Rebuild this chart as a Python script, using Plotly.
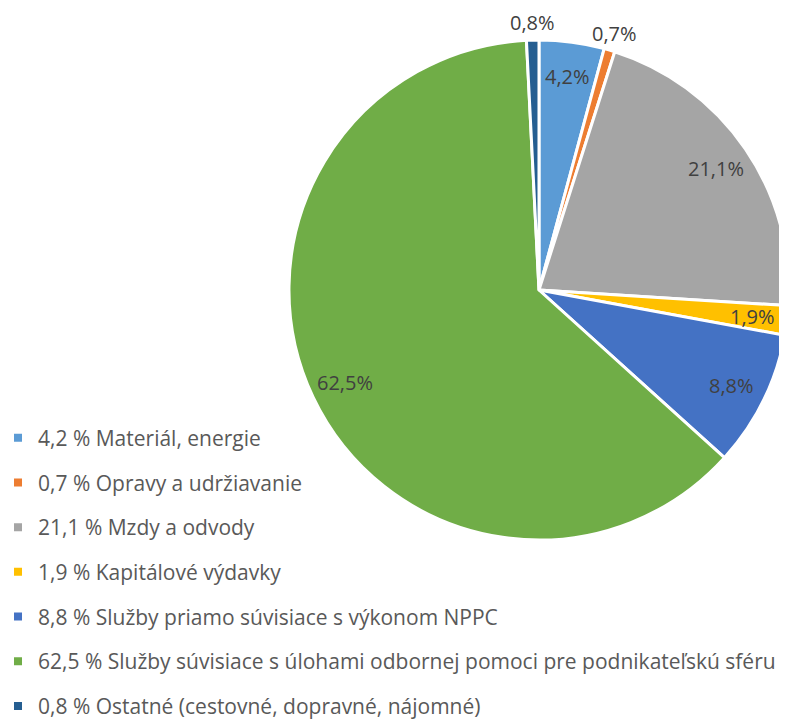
import math
import plotly.graph_objects as go

# chart data
shares = [4.2, 0.7, 21.1, 1.9, 8.8, 62.5, 0.8]
names = [
    "Materiál, energie",
    "Opravy a udržiavanie",
    "Mzdy a odvody",
    "Kapitálové výdavky",
    "Služby priamo súvisiace s výkonom NPPC",
    "Služby súvisiace s úlohami odbornej pomoci pre podnikateľskú sféru",
    "Ostatné (cestovné, dopravné, nájomné)",
]
colors = ["#5B9BD5", "#ED7D31", "#A5A5A5", "#FFC000", "#4472C4", "#70AD47", "#255E91"]
label_side = ["inside", "outside", "inside", "inside", "inside", "inside", "outside"]

W, H = 787, 720
dom_x = [0.357, 0.9924]
dom_y = [0.2611, 0.9556]


def fmt(v):
    return ("%.1f" % v).replace(".", ",")


legend_labels = [fmt(v) + " % " + n for v, n in zip(shares, names)]
slice_text = [fmt(v) + "%" for v in shares]

fig = go.Figure()

fig.add_trace(
    go.Pie(
        values=shares,
        labels=legend_labels,
        textinfo="none",
        sort=False,
        direction="clockwise",
        rotation=0,
        marker=dict(colors=colors, line=dict(color="white", width=3)),
        domain=dict(x=dom_x, y=dom_y),
        showlegend=False,
        hoverinfo="label",
    )
)

# data labels, Excel style (placed along the slice mid-angle)
cx = (dom_x[0] + dom_x[1]) / 2
cy = (dom_y[0] + dom_y[1]) / 2
R = min((dom_x[1] - dom_x[0]) * W, (dom_y[1] - dom_y[0]) * H) / 2
total = sum(shares)
cum = 0
for v, txt, side in zip(shares, slice_text, label_side):
    ang = (cum + v / 2) / total * 2 * math.pi
    cum += v
    f = 0.86 if side == "inside" else 1.07
    fig.add_annotation(
        x=cx + f * R * math.sin(ang) / W,
        y=cy + f * R * math.cos(ang) / H,
        xref="paper", yref="paper",
        xanchor="center", yanchor="middle",
        text=txt, showarrow=False,
        font=dict(family="Open Sans", size=20, color="#404040"),
    )

# legend entries (one group each so the gap can be tuned)
for lab, col in zip(legend_labels, colors):
    fig.add_trace(
        go.Scatter(
            x=[None],
            y=[None],
            mode="markers",
            name=lab,
            legendgroup=lab,
            marker=dict(symbol="square", size=8, color=col),
        )
    )

fig.update_xaxes(visible=False)
fig.update_yaxes(visible=False)

fig.update_layout(
    width=W,
    height=H,
    margin=dict(l=0, r=0, t=0, b=0, autoexpand=False),
    paper_bgcolor="white",
    plot_bgcolor="white",
    font=dict(family="Open Sans", color="#595959"),
    legend=dict(
        x=-0.0127,
        xanchor="left",
        y=0.4311,
        yanchor="top",
        traceorder="grouped",
        tracegroupgap=14.4,
        font=dict(family="Open Sans", size=21, color="#595959"),
        itemsizing="trace",
        bgcolor="rgba(0,0,0,0)",
    ),
)

fig.write_html("out.html")
